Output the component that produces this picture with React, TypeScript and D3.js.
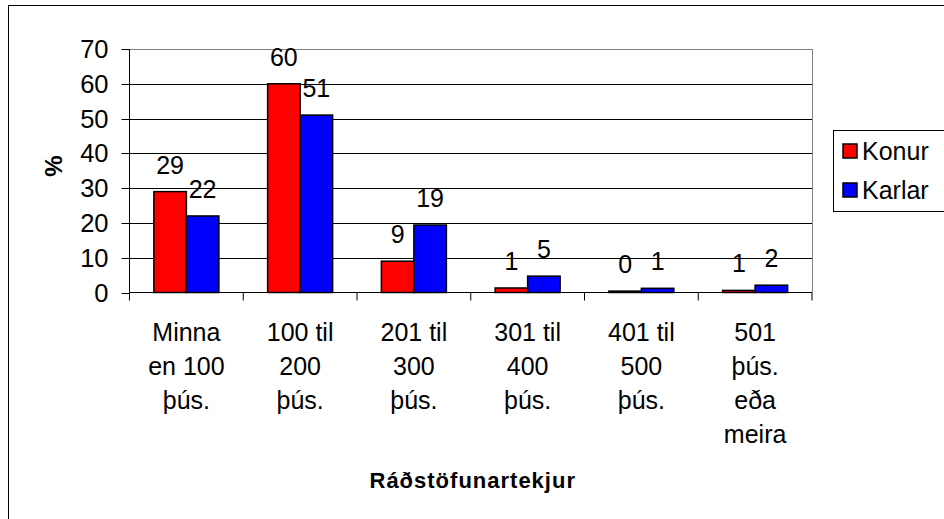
import React from "react";
import * as d3 from "d3";

const categories: string[][] = [
  ["Minna", "en 100", "þús."],
  ["100 til", "200", "þús."],
  ["201 til", "300", "þús."],
  ["301 til", "400", "þús."],
  ["401 til", "500", "þús."],
  ["501", "þús.", "eða", "meira"],
];
const konur = [29, 60, 9, 1.3, 0.4, 0.6];
const karlar = [22, 51, 19.4, 4.7, 1.2, 2.1];
const seriesNames = ["Konur", "Karlar"];
const seriesColors = ["#ff0000", "#0000ff"];
const yTicks = [0, 10, 20, 30, 40, 50, 60, 70];
const xTitle = "Ráðstöfunartekjur";
const yTitle = "%";

const W = 944;
const H = 519;
const plot = { left: 129.5, right: 812, top: 49, bottom: 292.5 };
const FONT = "Liberation Sans, Arial, sans-serif";

export default function App() {
  const y = d3.scaleLinear().domain([0, 70]).range([plot.bottom, plot.top]);
  const x = d3
    .scaleBand<number>()
    .domain(d3.range(categories.length))
    .range([plot.left, plot.right]);
  const bw = x.bandwidth();
  const barW = bw / 3.5;
  const offset = (bw - 2 * barW) / 2;
  const series = [konur, karlar];

  return (
    <svg
      width={W}
      height={H}
      style={{ position: "absolute", left: 0, top: 0, background: "#fff" }}
      fontFamily={FONT}
    >
      <rect x={0} y={0} width={W} height={H} fill="#fff" />
      <rect x={8.5} y={5.5} width={1000} height={1000} fill="none" stroke="#000" strokeWidth={1} />
      {/* gridlines */}
      {yTicks.slice(1).map((t) => (
        <line
          key={"g" + t}
          x1={plot.left}
          x2={plot.right}
          y1={Math.round(y(t)) + 0.5}
          y2={Math.round(y(t)) + 0.5}
          stroke={t === 70 ? "#808080" : "#000"}
          strokeWidth={1}
        />
      ))}
      {/* right border */}
      <line x1={plot.right + 0.5} x2={plot.right + 0.5} y1={plot.top} y2={plot.bottom} stroke="#808080" />
      {/* bars */}
      {series.map((vals, si) =>
        vals.map((v, i) => {
          const bx = (x(i) as number) + offset + si * barW;
          const top = y(v);
          return (
            <rect
              key={`b${si}-${i}`}
              x={bx}
              y={top}
              width={barW}
              height={plot.bottom - top}
              fill={seriesColors[si]}
              stroke="#000"
              strokeWidth={1.5}
            />
          );
        })
      )}
      {/* data labels */}
      {series.map((vals, si) =>
        vals.map((v, i) => {
          const cx = (x(i) as number) + offset + si * barW + barW / 2;
          return (
            <text
              key={`l${si}-${i}`}
              x={cx}
              y={y(v) - 18}
              textAnchor="middle"
              fontSize={25}
              fill="#000"
            >
              {Math.round(v)}
            </text>
          );
        })
      )}
      {/* axes */}
      <line x1={plot.left} x2={plot.left} y1={plot.top} y2={plot.bottom} stroke="#000" />
      <line x1={plot.left} x2={plot.right} y1={plot.bottom} y2={plot.bottom} stroke="#000" />
      {yTicks.map((t) => (
        <g key={"t" + t}>
          <line
            x1={plot.left - 8}
            x2={plot.left}
            y1={Math.round(y(t)) + 0.5}
            y2={Math.round(y(t)) + 0.5}
            stroke="#000"
          />
          <text x={plot.left - 21} y={y(t) + 9} textAnchor="end" fontSize={25.5} fill="#000">
            {t}
          </text>
        </g>
      ))}
      {d3.range(categories.length + 1).map((i) => {
        const xx = i < categories.length ? (x(i) as number) : plot.right;
        return (
          <line key={"xt" + i} x1={xx} x2={xx} y1={plot.bottom} y2={plot.bottom + 8} stroke="#000" />
        );
      })}
      {categories.map((lines, i) => (
        <text key={"c" + i} textAnchor="middle" fontSize={25} fill="#000">
          {lines.map((ln, j) => (
            <tspan key={j} x={(x(i) as number) + bw / 2} y={341 + j * 34}>
              {ln}
            </tspan>
          ))}
        </text>
      ))}
      {/* axis titles */}
      <text
        x={(plot.left + plot.right) / 2 + 2}
        y={488}
        textAnchor="middle"
        fontSize={22}
        fontWeight="bold"
        letterSpacing={1}
        fill="#000"
      >
        {xTitle}
      </text>
      <text
        transform={`translate(62,166) rotate(-90)`}
        textAnchor="middle"
        fontSize={24}
        fontWeight="bold"
        fill="#000"
      >
        {yTitle}
      </text>
      {/* legend */}
      <rect x={833.5} y={130.5} width={200} height={81} fill="#fff" stroke="#000" />
      {seriesNames.map((n, i) => (
        <g key={"lg" + i}>
          <rect x={843} y={144 + i * 39} width={14} height={14} fill={seriesColors[i]} stroke="#000" strokeWidth={1.5} />
          <text x={862} y={160 + i * 39} fontSize={25} fill="#000">
            {n}
          </text>
        </g>
      ))}
    </svg>
  );
}
